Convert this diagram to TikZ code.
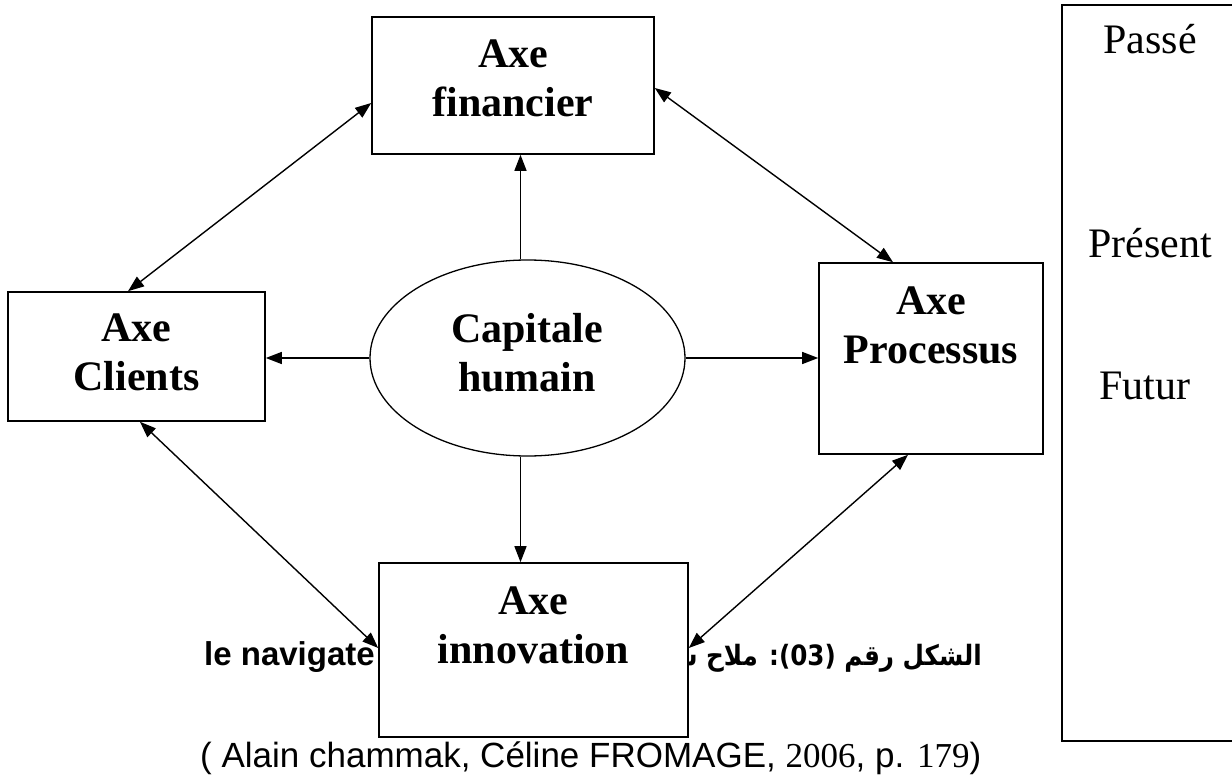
\documentclass[tikz,border=0pt]{standalone}
\usepackage{fontspec}
\setmainfont{Liberation Serif}
\newfontfamily\arialfont{Liberation Sans}
\newfontfamily\arabicfont[Script=Arabic]{DejaVu Sans}
\TeXXeTstate=1
\usetikzlibrary{arrows.meta,calc,shapes.geometric}
\begin{document}
\begin{tikzpicture}[x=1pt,y=-1pt,
  box/.style={draw, line width=1.6pt, fill=white, inner sep=0pt},
  lbl/.style={font=\fontsize{42}{49}\selectfont\bfseries, align=center, anchor=base, inner sep=0pt},
  arr/.style={line width=1.4pt, -{Triangle[length=16pt,width=12pt]}},
  darr/.style={line width=1.4pt, {Triangle[length=16pt,width=12pt]}-{Triangle[length=16pt,width=12pt]}},
  timetxt/.style={font=\fontsize{42}{49}\selectfont, anchor=base, inner sep=0pt}]
\useasboundingbox (0,0) rectangle (1232,778);
\fill[white] (0,0) rectangle (1232,778);

% captions (partly hidden behind the innovation box)
\node[font=\arialfont\bfseries\fontsize{33}{40}\selectfont, anchor=base west, inner sep=0pt] (capL) at (204,665) {le navigate};
\node[font=\arabicfont\bfseries\fontsize{28}{34}\selectfont, anchor=base east, inner sep=0pt] (capA) at (982,665) {\scalebox{0.88}[1]{\beginR الشكل رقم (03): ملاح سـ\endR}};
\node[font=\arialfont\fontsize{35}{42}\selectfont, anchor=base west, inner sep=0pt] (cite) at (200,767) {( Alain chammak, Céline FROMAGE, {\rmfamily 2006}, p. {\rmfamily 179})};

% boxes
\node[box, minimum width=282pt, minimum height=137pt] (fin) at (513,85.5) {};
\node[lbl] (finT) at ($(fin.north)+(0,100)$) {Axe\\financier};
\node[box, minimum width=257pt, minimum height=129pt] (cli) at (136.5,356.5) {};
\node[lbl] (cliT) at ($(cli.north)+(0,99)$) {Axe\\Clients};
\node[box, minimum width=224pt, minimum height=191pt] (proc) at (931,358.5) {};
\node[lbl] (procT) at ($(proc.north)+(0,101)$) {Axe\\Processus};
\node[box, minimum width=309pt, minimum height=174pt] (inno) at (533.5,650) {};
\node[lbl] (innoT) at ($(inno.north)+(0,101)$) {Axe\\innovation};
\node[draw, ellipse, line width=1.3pt, fill=white, minimum width=315pt, minimum height=196pt, inner sep=0pt] (ell) at (527.5,358) {};
\node[lbl] (ellT) at (527,391) {Capitale\\humain};

% time column
\draw[line width=1.6pt] (1232,5) -- (1062,5) -- (1062,741) -- (1232,741);
\node[timetxt] (past) at (1150,54) {Passé};
\node[timetxt] (pres) at (1150,258) {Présent};
\node[timetxt] (fut) at (1145,399) {Futur};

% connectors
\draw[arr] ([xshift=-7pt]ell.north) -- ([xshift=-7pt]ell.north |- fin.south);
\draw[arr] (ell.west) -- (ell.west -| cli.east);
\draw[arr] (ell.east) -- (ell.east -| proc.west);
\draw[arr] ([xshift=-7pt]ell.south) -- ([xshift=-7pt]ell.south |- inno.north);
\draw[darr] ([yshift=-17.5pt]fin.west) -- ([xshift=-8.5pt]cli.north);
\draw[darr] ([yshift=-2.5pt]fin.east) -- ([xshift=-38pt]proc.north);
\draw[darr] ([xshift=3.5pt]cli.south) -- ([yshift=2pt]inno.west);
\draw[darr] ([yshift=2pt]inno.east) -- ([xshift=-23pt]proc.south);
\end{tikzpicture}
\end{document}
